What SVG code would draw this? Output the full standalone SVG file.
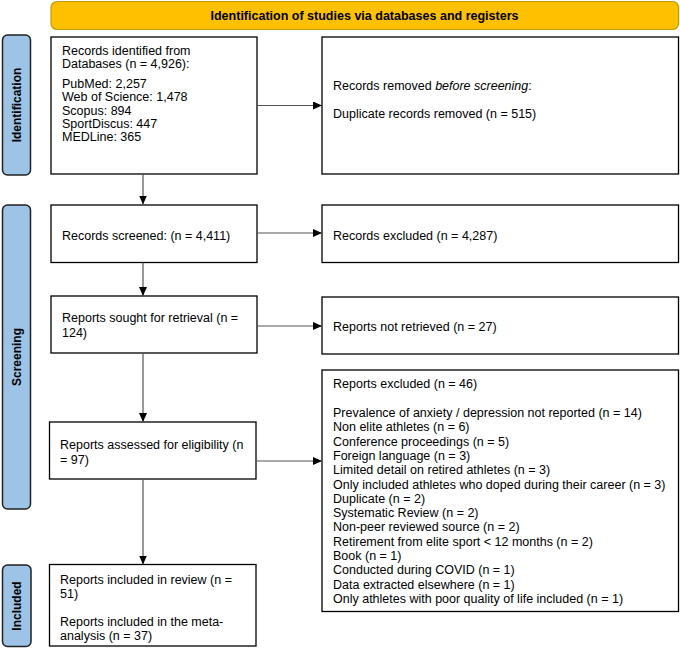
<svg xmlns="http://www.w3.org/2000/svg" width="680" height="649" viewBox="0 0 680 649">
<style>
  .t { font-family: "Liberation Sans", Arial, sans-serif; font-size: 12.5px; fill: #000; }
  .side { font-family: "Liberation Sans", Arial, sans-serif; font-size: 12px; font-weight: bold; fill: #000; }
  .box { fill: #fff; stroke: #000; stroke-width: 1.3; }
  .phase { fill: #9DC3E6; stroke: #222; stroke-width: 1.5; }
  .conn { stroke: #555; stroke-width: 1.2; fill: none; }
</style>
<defs>
  <marker id="ah" markerWidth="9" markerHeight="8" refX="8.5" refY="4" orient="auto" markerUnits="userSpaceOnUse">
    <path d="M0,0 L9,4 L0,8 Z" fill="#000"/>
  </marker>
</defs>
<rect width="680" height="649" fill="#fff"/>

<g id="banner">
  <rect x="51" y="1.5" width="627.5" height="28" rx="6" fill="#FFC000" stroke="#C49A00" stroke-width="1.2"/>
  <text x="364.5" y="20" text-anchor="middle" class="t" style="font-weight:bold;font-size:12px" textLength="308" lengthAdjust="spacingAndGlyphs">Identification of studies via databases and registers</text>
</g>

<g id="phase-identification">
  <rect class="phase" x="2.5" y="35" width="28" height="140" rx="5"/>
  <text class="side" transform="translate(20.5,105) rotate(-90)" text-anchor="middle">Identification</text>
</g>
<g id="phase-screening">
  <rect class="phase" x="2.5" y="205" width="28" height="304" rx="5"/>
  <text class="side" transform="translate(20.5,357) rotate(-90)" text-anchor="middle">Screening</text>
</g>
<g id="phase-included">
  <rect class="phase" x="2.5" y="565" width="28.5" height="81.5" rx="5"/>
  <text class="side" transform="translate(21,606) rotate(-90)" text-anchor="middle">Included</text>
</g>

<g id="records-identified">
  <rect class="box" x="51" y="37" width="206" height="137"/>
  <text class="t" x="62" y="55">Records identified from</text>
  <text class="t" x="62" y="68">Databases (n = 4,926):</text>
  <text class="t" x="62" y="88">PubMed: 2,257</text>
  <text class="t" x="62" y="101.3">Web of Science: 1,478</text>
  <text class="t" x="62" y="114.6">Scopus: 894</text>
  <text class="t" x="62" y="127.9">SportDiscus: 447</text>
  <text class="t" x="62" y="141.2">MEDLine: 365</text>
</g>

<g id="records-removed">
  <rect class="box" x="322" y="37" width="356.5" height="137"/>
  <text class="t" x="333" y="89.5">Records removed <tspan font-style="italic">before screening</tspan>:</text>
  <text class="t" x="333" y="117.5">Duplicate records removed (n = 515)</text>
</g>

<g id="records-screened">
  <rect class="box" x="51" y="205" width="206" height="57.5"/>
  <text class="t" x="62" y="239.5">Records screened: (n = 4,411)</text>
</g>

<g id="records-excluded">
  <rect class="box" x="322" y="205" width="356.5" height="57.5"/>
  <text class="t" x="333" y="239.5">Records excluded (n = 4,287)</text>
</g>

<g id="reports-sought">
  <rect class="box" x="51" y="296" width="206" height="57"/>
  <text class="t" x="62" y="322">Reports sought for retrieval (n =</text>
  <text class="t" x="62" y="336.5">124)</text>
</g>

<g id="reports-not-retrieved">
  <rect class="box" x="322" y="297" width="356.5" height="57"/>
  <text class="t" x="333" y="331">Reports not retrieved (n = 27)</text>
</g>

<g id="reports-assessed">
  <rect class="box" x="49.5" y="422" width="206.5" height="57"/>
  <text class="t" x="60" y="449">Reports assessed for eligibility (n</text>
  <text class="t" x="60" y="463.5">= 97)</text>
</g>

<g id="reports-excluded">
  <rect class="box" x="322" y="370" width="356.5" height="241.5"/>
  <text class="t" x="333" y="388">Reports excluded (n = 46)</text>
  <text class="t" x="333" y="417">Prevalence of anxiety / depression not reported (n = 14)</text>
  <text class="t" x="333" y="431.3">Non elite athletes (n = 6)</text>
  <text class="t" x="333" y="445.6">Conference proceedings (n = 5)</text>
  <text class="t" x="333" y="459.9">Foreign language (n = 3)</text>
  <text class="t" x="333" y="474.2">Limited detail on retired athletes (n = 3)</text>
  <text class="t" x="333" y="488.5">Only included athletes who doped during their career (n = 3)</text>
  <text class="t" x="333" y="502.8">Duplicate (n = 2)</text>
  <text class="t" x="333" y="517.1">Systematic Review (n = 2)</text>
  <text class="t" x="333" y="531.4">Non-peer reviewed source (n = 2)</text>
  <text class="t" x="333" y="545.7">Retirement from elite sport &lt; 12 months (n = 2)</text>
  <text class="t" x="333" y="560">Book (n = 1)</text>
  <text class="t" x="333" y="574.3">Conducted during COVID (n = 1)</text>
  <text class="t" x="333" y="588.6">Data extracted elsewhere (n = 1)</text>
  <text class="t" x="333" y="602.9">Only athletes with poor quality of life included (n = 1)</text>
</g>

<g id="reports-included">
  <rect class="box" x="49.5" y="564.5" width="206.5" height="81.5"/>
  <text class="t" x="60" y="584">Reports included in review (n =</text>
  <text class="t" x="60" y="598">51)</text>
  <text class="t" x="60" y="626">Reports included in the meta-</text>
  <text class="t" x="60" y="640">analysis (n = 37)</text>
</g>

<g id="connectors">
  <line class="conn" x1="143" y1="174" x2="143" y2="204" marker-end="url(#ah)"/>
  <line class="conn" x1="143" y1="262.5" x2="143" y2="295.5" marker-end="url(#ah)"/>
  <line class="conn" x1="143" y1="353" x2="143" y2="421.5" marker-end="url(#ah)"/>
  <line class="conn" x1="143" y1="479" x2="143" y2="564" marker-end="url(#ah)"/>
  <line class="conn" x1="257" y1="105.5" x2="321.5" y2="105.5" marker-end="url(#ah)"/>
  <line class="conn" x1="257" y1="233" x2="321.5" y2="233" marker-end="url(#ah)"/>
  <line class="conn" x1="257" y1="326" x2="321.5" y2="326" marker-end="url(#ah)"/>
  <line class="conn" x1="256" y1="461" x2="321.5" y2="461" marker-end="url(#ah)"/>
</g>
</svg>
